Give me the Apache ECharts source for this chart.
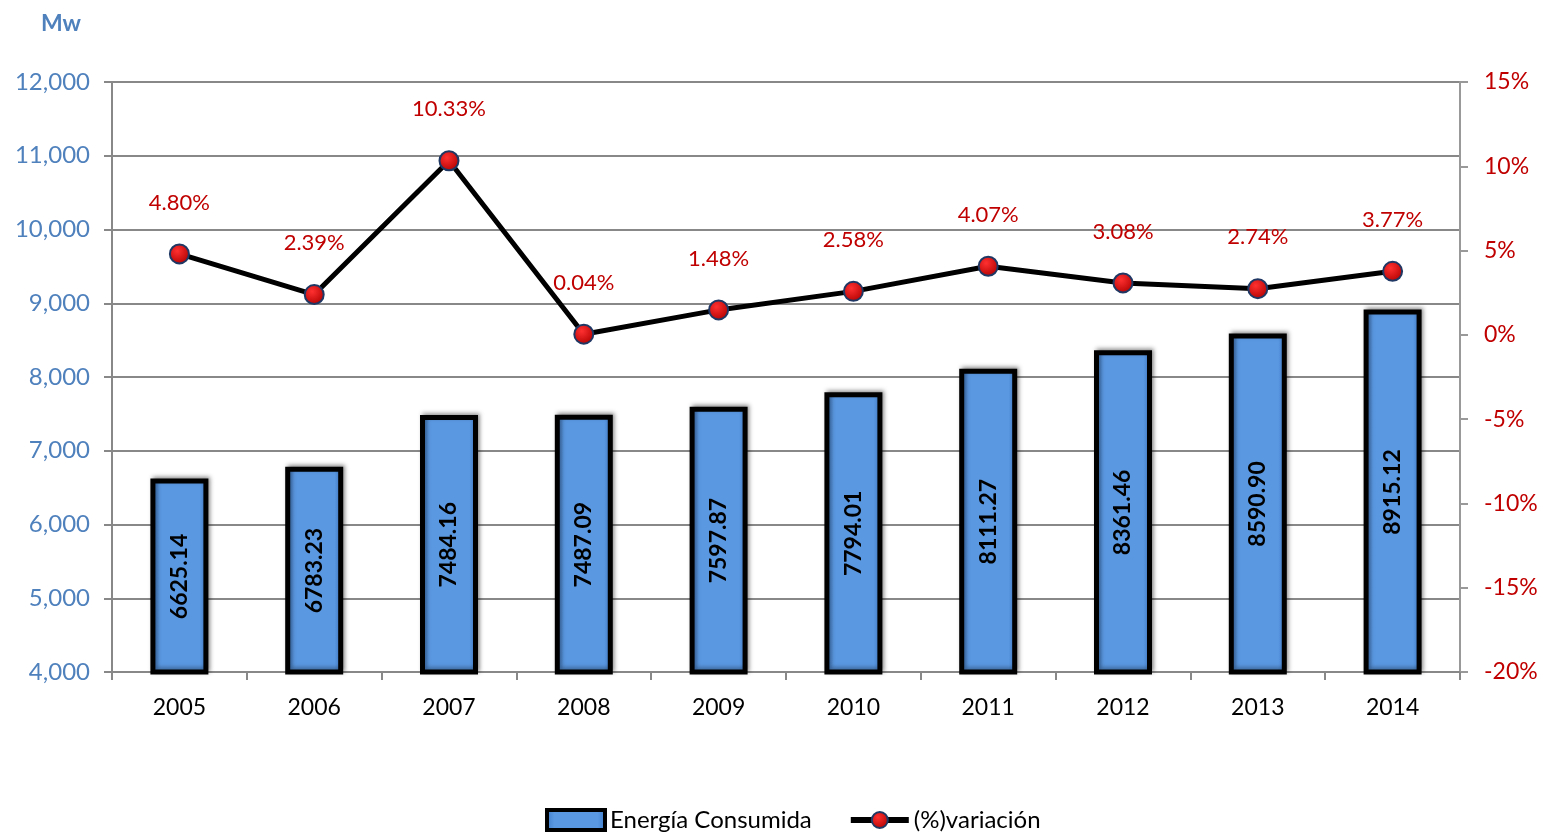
<!DOCTYPE html>
<html>
<head>
<meta charset="utf-8">
<script src="https://cdn.jsdelivr.net/npm/echarts@6/dist/echarts.min.js"></script>
<style>
  html, body { margin: 0; padding: 0; background: #fff; }
  #chart { width: 1543px; height: 837px; }
</style>
</head>
<body>
<div id="chart"></div>
<script>
// datos del gráfico
const years = ['2005', '2006', '2007', '2008', '2009', '2010', '2011', '2012', '2013', '2014'];
const energia = [6625.14, 6783.23, 7484.16, 7487.09, 7597.87, 7794.01, 8111.27, 8361.46, 8590.90, 8915.12];
const variacion = [4.80, 2.39, 10.33, 0.04, 1.48, 2.58, 4.07, 3.08, 2.74, 3.77];

const font = 'Lato, "Open Sans", sans-serif';
const chart = echarts.init(document.getElementById('chart'));

const barColor = new echarts.graphic.LinearGradient(0, 0, 1, 0, [
  { offset: 0, color: '#3d78c4' },
  { offset: 0.15, color: '#5a98e2' },
  { offset: 0.85, color: '#5a98e2' },
  { offset: 1, color: '#3d78c4' }
]);
const dotColor = new echarts.graphic.RadialGradient(0.4, 0.35, 0.7, [
  { offset: 0, color: '#ff3030' },
  { offset: 1, color: '#b00000' }
]);

chart.setOption({
  animation: false,
  textStyle: { fontFamily: font },
  grid: { left: 112, right: 83, top: 82, bottom: 165 },
  title: {
    text: 'Mw', left: 36, top: 7,
    textStyle: { color: '#4F81BD', fontSize: 23, fontWeight: 'bold', fontFamily: font }
  },
  legend: {
    bottom: 0, left: 540, itemGap: 36, itemWidth: 58, itemHeight: 20,
    textStyle: { fontSize: 24, color: '#000', fontFamily: font },
    data: [
      { name: 'Energía Consumida', icon: 'rect', itemStyle: { borderColor: '#000', borderWidth: 4 } },
      { name: '(%)variación', lineStyle: { width: 6, color: '#000' } }
    ]
  },
  xAxis: {
    type: 'category',
    data: years,
    axisLine: { onZero: false, lineStyle: { color: '#888', width: 2 } },
    axisTick: { show: true, length: 8, lineStyle: { color: '#888', width: 2 } },
    axisLabel: { color: '#000', fontSize: 23, margin: 24 }
  },
  yAxis: [
    {
      type: 'value', min: 4000, max: 12000, interval: 1000,
      axisLine: { show: true, lineStyle: { color: '#888', width: 2 } },
      axisTick: { show: true, length: 8, lineStyle: { color: '#888', width: 2 } },
      splitLine: { lineStyle: { color: '#888', width: 2 } },
      axisLabel: {
        color: '#4F81BD', fontSize: 24, margin: 22,
        formatter: v => v.toLocaleString('en-US')
      }
    },
    {
      type: 'value', min: -20, max: 15, interval: 5,
      axisLine: { show: true, lineStyle: { color: '#999', width: 2 } },
      axisTick: { show: true, length: 8, lineStyle: { color: '#999', width: 2 } },
      splitLine: { show: false },
      axisLabel: { color: '#C00000', fontSize: 23, margin: 24, formatter: '{value}%' }
    }
  ],
  series: [
    {
      name: 'Energía Consumida',
      type: 'bar',
      data: energia,
      barWidth: 58,
      itemStyle: {
        color: barColor,
        borderColor: '#000',
        borderWidth: 5,
        shadowColor: 'rgba(0,0,0,0.35)',
        shadowBlur: 4,
        shadowOffsetX: 2,
        shadowOffsetY: -2
      },
      label: {
        show: true, position: 'inside', rotate: 90,
        color: '#000', fontSize: 23, fontWeight: 'bold', fontFamily: font,
        formatter: p => p.value.toFixed(2)
      }
    },
    {
      name: '(%)variación',
      type: 'line',
      yAxisIndex: 1,
      data: variacion,
      symbol: 'circle',
      symbolSize: 19,
      lineStyle: { color: '#000', width: 5 },
      itemStyle: { color: dotColor, borderColor: '#1F3864', borderWidth: 2 },
      label: {
        show: true, position: 'top', distance: 30,
        color: '#C00000', fontSize: 22, fontFamily: font,
        formatter: p => p.value.toFixed(2) + '%'
      },
      z: 5
    }
  ]
});
</script>
</body>
</html>
